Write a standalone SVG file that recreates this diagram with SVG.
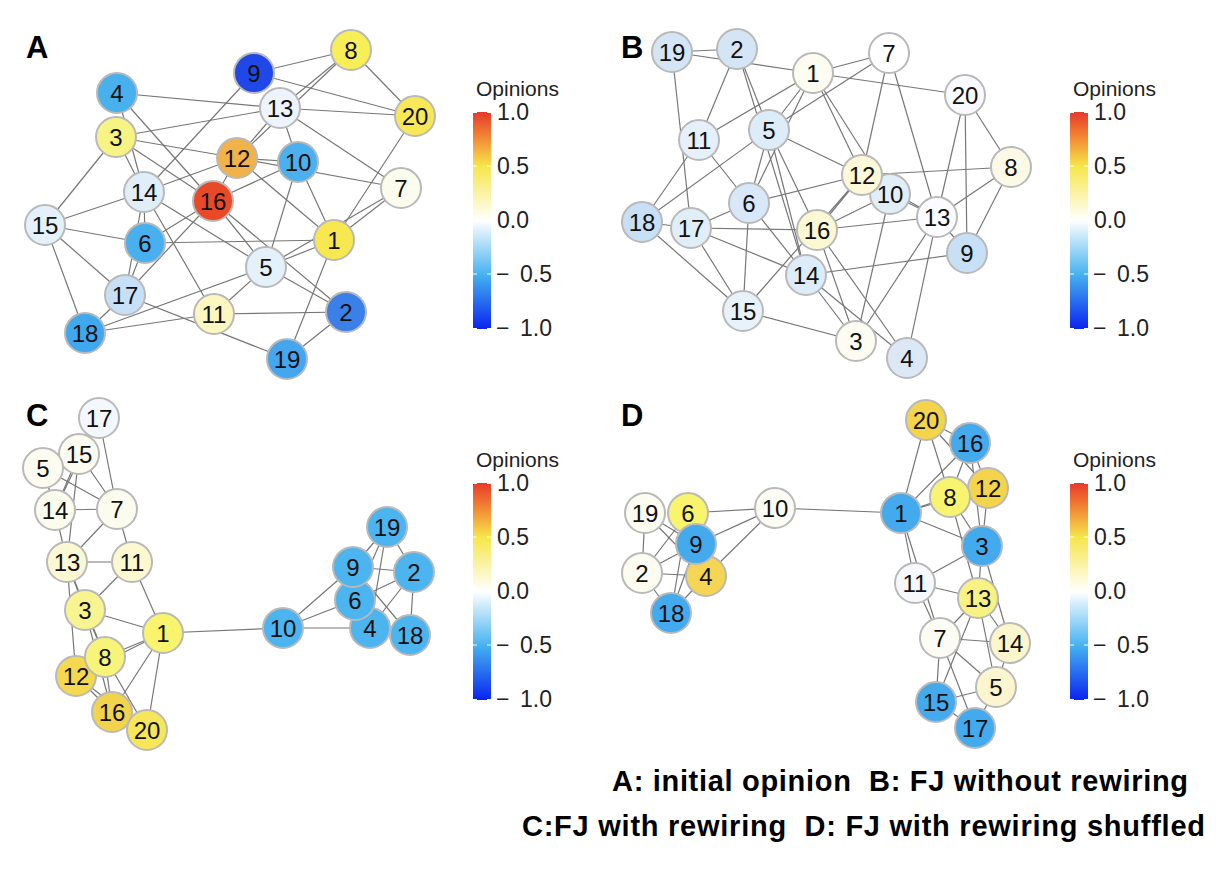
<svg xmlns="http://www.w3.org/2000/svg" width="1222" height="876" viewBox="0 0 1222 876">
<defs>
<linearGradient id="cb" x1="0" y1="0" x2="0" y2="1">
<stop offset="0" stop-color="#e8392a"/>
<stop offset="0.12" stop-color="#f28a34"/>
<stop offset="0.25" stop-color="#f6e64a"/>
<stop offset="0.5" stop-color="#ffffff"/>
<stop offset="0.75" stop-color="#45b2f0"/>
<stop offset="1" stop-color="#0a24f0"/>
</linearGradient>
<g id="colorbar">
<text class="ot" x="3" y="-16">Opinions</text>
<rect x="0" y="0" width="18" height="217" fill="url(#cb)"/>
<path class="tk" d="M0 0.5h4M14 0.5h4M0 54h4M14 54h4M0 108h4M14 108h4M0 162h4M14 162h4M0 216.5h4M14 216.5h4"/>
<text class="ct" x="24" y="8">1.0</text>
<text class="ct" x="24" y="62">0.5</text>
<text class="ct" x="24" y="116">0.0</text>
<text class="ct" x="23" y="170">−<tspan x="47">0.5</tspan></text>
<text class="ct" x="23" y="224">−<tspan x="47">1.0</tspan></text>
</g>
</defs>
<style>
.e line{stroke:#777;stroke-width:1.2}
.n circle{stroke:#b9b9b9;stroke-width:2}
.n text{font-family:"Liberation Sans",Arial,sans-serif;font-size:24px;text-anchor:middle;fill:#111}
.ot{font-family:"Liberation Sans",Arial,sans-serif;font-size:21px;fill:#222}
.ct{font-family:"Liberation Sans",Arial,sans-serif;font-size:23px;fill:#222}
.tk{stroke:#fff;stroke-width:1;fill:none}
.pl{font-family:"Liberation Sans",Arial,sans-serif;font-size:31px;font-weight:bold;fill:#000}
.cap{font-family:"Liberation Sans",Arial,sans-serif;font-size:29px;font-weight:bold;fill:#000}
</style>
<rect width="1222" height="876" fill="#fff"/>

<text class="pl" x="26" y="58">A</text>
<text class="pl" x="621" y="58">B</text>
<text class="pl" x="26" y="426">C</text>
<text class="pl" x="621" y="426">D</text>

<use href="#colorbar" x="473" y="112"/>
<use href="#colorbar" x="1070" y="112"/>
<use href="#colorbar" x="473" y="483"/>
<use href="#colorbar" x="1070" y="483"/>

<!-- Panel A connectors -->
<g id="A-edges" class="e">
<line x1="117" y1="93" x2="280" y2="108"/>
<line x1="117" y1="93" x2="213" y2="201"/>
<line x1="117" y1="93" x2="144" y2="192"/>
<line x1="116" y1="137" x2="144" y2="192"/>
<line x1="116" y1="137" x2="280" y2="108"/>
<line x1="116" y1="137" x2="237" y2="158"/>
<line x1="116" y1="137" x2="213" y2="201"/>
<line x1="116" y1="137" x2="45" y2="225"/>
<line x1="254" y1="73" x2="144" y2="192"/>
<line x1="144" y1="192" x2="237" y2="158"/>
<line x1="144" y1="192" x2="45" y2="225"/>
<line x1="144" y1="192" x2="266" y2="267"/>
<line x1="237" y1="158" x2="213" y2="201"/>
<line x1="213" y1="201" x2="298" y2="162"/>
<line x1="254" y1="73" x2="351" y2="50"/>
<line x1="254" y1="73" x2="415" y2="116"/>
<line x1="237" y1="158" x2="280" y2="108"/>
<line x1="237" y1="158" x2="351" y2="50"/>
<line x1="280" y1="108" x2="351" y2="50"/>
<line x1="280" y1="108" x2="415" y2="116"/>
<line x1="280" y1="108" x2="401" y2="188"/>
<line x1="280" y1="108" x2="298" y2="162"/>
<line x1="351" y1="50" x2="415" y2="116"/>
<line x1="415" y1="116" x2="334" y2="240"/>
<line x1="237" y1="158" x2="298" y2="162"/>
<line x1="237" y1="158" x2="401" y2="188"/>
<line x1="237" y1="158" x2="334" y2="240"/>
<line x1="298" y1="162" x2="266" y2="267"/>
<line x1="298" y1="162" x2="334" y2="240"/>
<line x1="401" y1="188" x2="334" y2="240"/>
<line x1="401" y1="188" x2="266" y2="267"/>
<line x1="334" y1="240" x2="266" y2="267"/>
<line x1="213" y1="201" x2="266" y2="267"/>
<line x1="145" y1="243" x2="334" y2="240"/>
<line x1="213" y1="201" x2="346" y2="312"/>
<line x1="266" y1="267" x2="346" y2="312"/>
<line x1="266" y1="267" x2="214" y2="314"/>
<line x1="85" y1="333" x2="266" y2="267"/>
<line x1="214" y1="314" x2="346" y2="312"/>
<line x1="346" y1="312" x2="287" y2="359"/>
<line x1="334" y1="240" x2="287" y2="359"/>
<line x1="45" y1="225" x2="145" y2="243"/>
<line x1="45" y1="225" x2="125" y2="295"/>
<line x1="45" y1="225" x2="85" y2="333"/>
<line x1="144" y1="192" x2="145" y2="243"/>
<line x1="145" y1="243" x2="125" y2="295"/>
<line x1="144" y1="192" x2="125" y2="295"/>
<line x1="144" y1="192" x2="214" y2="314"/>
<line x1="145" y1="243" x2="213" y2="201"/>
<line x1="125" y1="295" x2="213" y2="201"/>
<line x1="125" y1="295" x2="85" y2="333"/>
<line x1="125" y1="295" x2="287" y2="359"/>
<line x1="85" y1="333" x2="214" y2="314"/>
</g>

<!-- Panel A nodes -->
<g id="A-n1" class="n"><circle cx="334" cy="240" r="20" fill="#f8e850"/><text x="334" y="249">1</text></g>
<g id="A-n2" class="n"><circle cx="346" cy="312" r="20" fill="#3a80e8"/><text x="346" y="321">2</text></g>
<g id="A-n3" class="n"><circle cx="116" cy="137" r="20" fill="#f8f484"/><text x="116" y="146">3</text></g>
<g id="A-n4" class="n"><circle cx="117" cy="93" r="20" fill="#49b0ee"/><text x="117" y="102">4</text></g>
<g id="A-n5" class="n"><circle cx="266" cy="267" r="20" fill="#e4f0fa"/><text x="266" y="276">5</text></g>
<g id="A-n6" class="n"><circle cx="145" cy="243" r="20" fill="#48b0ee"/><text x="145" y="252">6</text></g>
<g id="A-n7" class="n"><circle cx="401" cy="188" r="20" fill="#fcfcee"/><text x="401" y="197">7</text></g>
<g id="A-n8" class="n"><circle cx="351" cy="50" r="20" fill="#f8ee58"/><text x="351" y="59">8</text></g>
<g id="A-n9" class="n"><circle cx="254" cy="73" r="20" fill="#2048e8"/><text x="254" y="82">9</text></g>
<g id="A-n10" class="n"><circle cx="298" cy="162" r="20" fill="#4cb0ee"/><text x="298" y="171">10</text></g>
<g id="A-n11" class="n"><circle cx="214" cy="314" r="20" fill="#fcf6c0"/><text x="214" y="323">11</text></g>
<g id="A-n12" class="n"><circle cx="237" cy="158" r="20" fill="#f2b24a"/><text x="237" y="167">12</text></g>
<g id="A-n13" class="n"><circle cx="280" cy="108" r="20" fill="#eef4fc"/><text x="280" y="117">13</text></g>
<g id="A-n14" class="n"><circle cx="144" cy="192" r="20" fill="#e0eefa"/><text x="144" y="201">14</text></g>
<g id="A-n15" class="n"><circle cx="45" cy="225" r="20" fill="#e4f0fa"/><text x="45" y="234">15</text></g>
<g id="A-n16" class="n"><circle cx="213" cy="201" r="20" fill="#e84a28"/><text x="213" y="210">16</text></g>
<g id="A-n17" class="n"><circle cx="125" cy="295" r="20" fill="#c8e0f6"/><text x="125" y="304">17</text></g>
<g id="A-n18" class="n"><circle cx="85" cy="333" r="20" fill="#40a8ee"/><text x="85" y="342">18</text></g>
<g id="A-n19" class="n"><circle cx="287" cy="359" r="20" fill="#44a6ee"/><text x="287" y="368">19</text></g>
<g id="A-n20" class="n"><circle cx="415" cy="116" r="20" fill="#f8e858"/><text x="415" y="125">20</text></g>

<!-- Panel B connectors -->
<g id="B-edges" class="e">
<line x1="672" y1="52" x2="737" y2="49"/>
<line x1="672" y1="52" x2="813" y2="73"/>
<line x1="672" y1="52" x2="691" y2="228"/>
<line x1="737" y1="49" x2="699" y2="140"/>
<line x1="737" y1="49" x2="769" y2="130"/>
<line x1="737" y1="49" x2="806" y2="275"/>
<line x1="813" y1="73" x2="699" y2="140"/>
<line x1="813" y1="73" x2="769" y2="130"/>
<line x1="813" y1="73" x2="749" y2="203"/>
<line x1="813" y1="73" x2="889" y2="53"/>
<line x1="813" y1="73" x2="965" y2="95"/>
<line x1="813" y1="73" x2="862" y2="175"/>
<line x1="813" y1="73" x2="890" y2="194"/>
<line x1="889" y1="53" x2="769" y2="130"/>
<line x1="889" y1="53" x2="862" y2="175"/>
<line x1="889" y1="53" x2="937" y2="217"/>
<line x1="965" y1="95" x2="937" y2="217"/>
<line x1="965" y1="95" x2="967" y2="253"/>
<line x1="965" y1="95" x2="1011" y2="167"/>
<line x1="769" y1="130" x2="862" y2="175"/>
<line x1="769" y1="130" x2="806" y2="275"/>
<line x1="769" y1="130" x2="817" y2="230"/>
<line x1="769" y1="130" x2="642" y2="222"/>
<line x1="769" y1="130" x2="749" y2="203"/>
<line x1="699" y1="140" x2="642" y2="222"/>
<line x1="699" y1="140" x2="749" y2="203"/>
<line x1="749" y1="203" x2="862" y2="175"/>
<line x1="749" y1="203" x2="691" y2="228"/>
<line x1="749" y1="203" x2="743" y2="311"/>
<line x1="749" y1="203" x2="806" y2="275"/>
<line x1="691" y1="228" x2="817" y2="230"/>
<line x1="691" y1="228" x2="806" y2="275"/>
<line x1="691" y1="228" x2="743" y2="311"/>
<line x1="642" y1="222" x2="691" y2="228"/>
<line x1="642" y1="222" x2="743" y2="311"/>
<line x1="743" y1="311" x2="862" y2="175"/>
<line x1="817" y1="230" x2="862" y2="175"/>
<line x1="817" y1="230" x2="890" y2="194"/>
<line x1="817" y1="230" x2="937" y2="217"/>
<line x1="817" y1="230" x2="856" y2="341"/>
<line x1="817" y1="230" x2="907" y2="358"/>
<line x1="806" y1="275" x2="967" y2="253"/>
<line x1="806" y1="275" x2="856" y2="341"/>
<line x1="806" y1="275" x2="907" y2="358"/>
<line x1="890" y1="194" x2="856" y2="341"/>
<line x1="890" y1="194" x2="937" y2="217"/>
<line x1="862" y1="175" x2="937" y2="217"/>
<line x1="937" y1="217" x2="856" y2="341"/>
<line x1="937" y1="217" x2="907" y2="358"/>
<line x1="937" y1="217" x2="967" y2="253"/>
<line x1="937" y1="217" x2="1011" y2="167"/>
<line x1="1011" y1="167" x2="967" y2="253"/>
<line x1="862" y1="175" x2="1011" y2="167"/>
<line x1="743" y1="311" x2="856" y2="341"/>
</g>

<!-- Panel B nodes -->
<g id="B-n1" class="n"><circle cx="813" cy="73" r="20" fill="#fcfcf0"/><text x="813" y="82">1</text></g>
<g id="B-n2" class="n"><circle cx="737" cy="49" r="20" fill="#d4e6f6"/><text x="737" y="58">2</text></g>
<g id="B-n3" class="n"><circle cx="856" cy="341" r="20" fill="#fcfcf2"/><text x="856" y="350">3</text></g>
<g id="B-n4" class="n"><circle cx="907" cy="358" r="20" fill="#dce8f6"/><text x="907" y="367">4</text></g>
<g id="B-n5" class="n"><circle cx="769" cy="130" r="20" fill="#dcecf8"/><text x="769" y="139">5</text></g>
<g id="B-n6" class="n"><circle cx="749" cy="203" r="20" fill="#d8e8f8"/><text x="749" y="212">6</text></g>
<g id="B-n7" class="n"><circle cx="889" cy="53" r="20" fill="#ffffff"/><text x="889" y="62">7</text></g>
<g id="B-n8" class="n"><circle cx="1011" cy="167" r="20" fill="#fcfae6"/><text x="1011" y="176">8</text></g>
<g id="B-n9" class="n"><circle cx="967" cy="253" r="20" fill="#c8e0f6"/><text x="967" y="262">9</text></g>
<g id="B-n10" class="n"><circle cx="890" cy="194" r="20" fill="#e0eef8"/><text x="890" y="203">10</text></g>
<g id="B-n11" class="n"><circle cx="699" cy="140" r="20" fill="#e6f0fa"/><text x="699" y="149">11</text></g>
<g id="B-n12" class="n"><circle cx="862" cy="175" r="20" fill="#fcf8d8"/><text x="862" y="184">12</text></g>
<g id="B-n13" class="n"><circle cx="937" cy="217" r="20" fill="#fcfcff"/><text x="937" y="226">13</text></g>
<g id="B-n14" class="n"><circle cx="806" cy="275" r="20" fill="#dcecf8"/><text x="806" y="284">14</text></g>
<g id="B-n15" class="n"><circle cx="743" cy="311" r="20" fill="#e8f2fa"/><text x="743" y="320">15</text></g>
<g id="B-n16" class="n"><circle cx="817" cy="230" r="20" fill="#fcf8d4"/><text x="817" y="239">16</text></g>
<g id="B-n17" class="n"><circle cx="691" cy="228" r="20" fill="#e0eef8"/><text x="691" y="237">17</text></g>
<g id="B-n18" class="n"><circle cx="642" cy="222" r="20" fill="#c8e0f6"/><text x="642" y="231">18</text></g>
<g id="B-n19" class="n"><circle cx="672" cy="52" r="20" fill="#d4e6f6"/><text x="672" y="61">19</text></g>
<g id="B-n20" class="n"><circle cx="965" cy="95" r="20" fill="#f8fafe"/><text x="965" y="104">20</text></g>

<!-- Panel C connectors -->
<g id="C-edges" class="e">
<line x1="99" y1="418" x2="117" y2="509"/>
<line x1="99" y1="418" x2="79" y2="454"/>
<line x1="99" y1="418" x2="55" y2="510"/>
<line x1="79" y1="454" x2="117" y2="509"/>
<line x1="79" y1="454" x2="55" y2="510"/>
<line x1="79" y1="454" x2="67" y2="562"/>
<line x1="43" y1="468" x2="117" y2="509"/>
<line x1="43" y1="468" x2="55" y2="510"/>
<line x1="43" y1="468" x2="79" y2="454"/>
<line x1="55" y1="510" x2="117" y2="509"/>
<line x1="55" y1="510" x2="67" y2="562"/>
<line x1="117" y1="509" x2="67" y2="562"/>
<line x1="117" y1="509" x2="132" y2="562"/>
<line x1="67" y1="562" x2="132" y2="562"/>
<line x1="67" y1="562" x2="85" y2="610"/>
<line x1="67" y1="562" x2="105" y2="657"/>
<line x1="67" y1="562" x2="76" y2="676"/>
<line x1="132" y1="562" x2="85" y2="610"/>
<line x1="132" y1="562" x2="163" y2="633"/>
<line x1="85" y1="610" x2="163" y2="633"/>
<line x1="85" y1="610" x2="105" y2="657"/>
<line x1="163" y1="633" x2="105" y2="657"/>
<line x1="163" y1="633" x2="76" y2="676"/>
<line x1="163" y1="633" x2="112" y2="712"/>
<line x1="163" y1="633" x2="147" y2="730"/>
<line x1="163" y1="633" x2="283" y2="628"/>
<line x1="76" y1="676" x2="112" y2="712"/>
<line x1="76" y1="676" x2="147" y2="730"/>
<line x1="105" y1="657" x2="112" y2="712"/>
<line x1="85" y1="610" x2="112" y2="712"/>
<line x1="105" y1="657" x2="147" y2="730"/>
<line x1="283" y1="628" x2="353" y2="567"/>
<line x1="283" y1="628" x2="355" y2="600"/>
<line x1="283" y1="628" x2="370" y2="628"/>
<line x1="387" y1="527" x2="353" y2="567"/>
<line x1="387" y1="527" x2="355" y2="600"/>
<line x1="387" y1="527" x2="370" y2="628"/>
<line x1="387" y1="527" x2="414" y2="572"/>
<line x1="353" y1="567" x2="414" y2="572"/>
<line x1="353" y1="567" x2="410" y2="635"/>
<line x1="355" y1="600" x2="414" y2="572"/>
<line x1="370" y1="628" x2="414" y2="572"/>
<line x1="414" y1="572" x2="410" y2="635"/>
</g>

<!-- Panel C nodes -->
<g id="C-n17" class="n"><circle cx="99" cy="418" r="20" fill="#f4f8fe"/><text x="99" y="427">17</text></g>
<g id="C-n15" class="n"><circle cx="79" cy="454" r="20" fill="#fcfcf0"/><text x="79" y="463">15</text></g>
<g id="C-n5" class="n"><circle cx="43" cy="468" r="20" fill="#fcfcf0"/><text x="43" y="477">5</text></g>
<g id="C-n14" class="n"><circle cx="55" cy="510" r="20" fill="#fcfcee"/><text x="55" y="519">14</text></g>
<g id="C-n7" class="n"><circle cx="117" cy="509" r="20" fill="#fcfcee"/><text x="117" y="518">7</text></g>
<g id="C-n13" class="n"><circle cx="67" cy="562" r="20" fill="#fcf8d4"/><text x="67" y="571">13</text></g>
<g id="C-n11" class="n"><circle cx="132" cy="562" r="20" fill="#fcf8d0"/><text x="132" y="571">11</text></g>
<g id="C-n3" class="n"><circle cx="85" cy="610" r="20" fill="#f8f490"/><text x="85" y="619">3</text></g>
<g id="C-n1" class="n"><circle cx="163" cy="633" r="20" fill="#f8f46e"/><text x="163" y="642">1</text></g>
<g id="C-n12" class="n"><circle cx="76" cy="676" r="20" fill="#f4d850"/><text x="76" y="685">12</text></g>
<g id="C-n8" class="n"><circle cx="105" cy="657" r="20" fill="#f8f47a"/><text x="105" y="666">8</text></g>
<g id="C-n16" class="n"><circle cx="112" cy="712" r="20" fill="#f2d44c"/><text x="112" y="721">16</text></g>
<g id="C-n20" class="n"><circle cx="147" cy="730" r="20" fill="#f8e65a"/><text x="147" y="739">20</text></g>
<g id="C-n10" class="n"><circle cx="283" cy="628" r="20" fill="#4cb4ee"/><text x="283" y="637">10</text></g>
<g id="C-n19" class="n"><circle cx="387" cy="527" r="20" fill="#4cb4ee"/><text x="387" y="536">19</text></g>
<g id="C-n2" class="n"><circle cx="414" cy="572" r="20" fill="#4cb4ee"/><text x="414" y="581">2</text></g>
<g id="C-n18" class="n"><circle cx="410" cy="635" r="20" fill="#4cb4ee"/><text x="410" y="644">18</text></g>
<g id="C-n4" class="n"><circle cx="370" cy="628" r="20" fill="#4cb4ee"/><text x="370" y="637">4</text></g>
<g id="C-n6" class="n"><circle cx="355" cy="600" r="20" fill="#4cb4ee"/><text x="355" y="609">6</text></g>
<g id="C-n9" class="n"><circle cx="353" cy="567" r="20" fill="#4cb4ee"/><text x="353" y="576">9</text></g>

<!-- Panel D connectors -->
<g id="D-edges" class="e">
<line x1="688" y1="513" x2="775" y2="508"/>
<line x1="696" y1="544" x2="775" y2="508"/>
<line x1="706" y1="576" x2="775" y2="508"/>
<line x1="775" y1="508" x2="901" y2="513"/>
<line x1="645" y1="513" x2="696" y2="544"/>
<line x1="645" y1="513" x2="706" y2="576"/>
<line x1="645" y1="513" x2="642" y2="573"/>
<line x1="642" y1="573" x2="688" y2="513"/>
<line x1="642" y1="573" x2="696" y2="544"/>
<line x1="642" y1="573" x2="706" y2="576"/>
<line x1="642" y1="573" x2="671" y2="613"/>
<line x1="671" y1="613" x2="696" y2="544"/>
<line x1="671" y1="613" x2="688" y2="513"/>
<line x1="671" y1="613" x2="706" y2="576"/>
<line x1="926" y1="420" x2="901" y2="513"/>
<line x1="926" y1="420" x2="950" y2="497"/>
<line x1="926" y1="420" x2="970" y2="443"/>
<line x1="926" y1="420" x2="988" y2="488"/>
<line x1="970" y1="443" x2="901" y2="513"/>
<line x1="970" y1="443" x2="950" y2="497"/>
<line x1="970" y1="443" x2="988" y2="488"/>
<line x1="970" y1="443" x2="982" y2="546"/>
<line x1="901" y1="513" x2="950" y2="497"/>
<line x1="901" y1="513" x2="988" y2="488"/>
<line x1="901" y1="513" x2="982" y2="546"/>
<line x1="901" y1="513" x2="915" y2="583"/>
<line x1="901" y1="513" x2="940" y2="638"/>
<line x1="950" y1="497" x2="982" y2="546"/>
<line x1="950" y1="497" x2="978" y2="598"/>
<line x1="988" y1="488" x2="982" y2="546"/>
<line x1="982" y1="546" x2="915" y2="583"/>
<line x1="982" y1="546" x2="978" y2="598"/>
<line x1="982" y1="546" x2="1010" y2="643"/>
<line x1="915" y1="583" x2="978" y2="598"/>
<line x1="915" y1="583" x2="940" y2="638"/>
<line x1="978" y1="598" x2="940" y2="638"/>
<line x1="978" y1="598" x2="1010" y2="643"/>
<line x1="978" y1="598" x2="936" y2="702"/>
<line x1="978" y1="598" x2="996" y2="687"/>
<line x1="940" y1="638" x2="1010" y2="643"/>
<line x1="940" y1="638" x2="996" y2="687"/>
<line x1="940" y1="638" x2="936" y2="702"/>
<line x1="940" y1="638" x2="975" y2="728"/>
<line x1="1010" y1="643" x2="996" y2="687"/>
<line x1="996" y1="687" x2="936" y2="702"/>
<line x1="996" y1="687" x2="975" y2="728"/>
<line x1="936" y1="702" x2="975" y2="728"/>
</g>

<!-- Panel D nodes -->
<g id="D-n19" class="n"><circle cx="645" cy="513" r="20" fill="#fcfcf0"/><text x="645" y="522">19</text></g>
<g id="D-n6" class="n"><circle cx="688" cy="513" r="20" fill="#f8f46e"/><text x="688" y="522">6</text></g>
<g id="D-n10" class="n"><circle cx="775" cy="508" r="20" fill="#fcfcf4"/><text x="775" y="517">10</text></g>
<g id="D-n2" class="n"><circle cx="642" cy="573" r="20" fill="#fcfcf0"/><text x="642" y="582">2</text></g>
<g id="D-n4" class="n"><circle cx="706" cy="576" r="20" fill="#f4d654"/><text x="706" y="585">4</text></g>
<g id="D-n9" class="n"><circle cx="696" cy="544" r="20" fill="#44aaee"/><text x="696" y="553">9</text></g>
<g id="D-n18" class="n"><circle cx="671" cy="613" r="20" fill="#44aaee"/><text x="671" y="622">18</text></g>
<g id="D-n20" class="n"><circle cx="926" cy="420" r="20" fill="#f4d44a"/><text x="926" y="429">20</text></g>
<g id="D-n16" class="n"><circle cx="970" cy="443" r="20" fill="#44aaee"/><text x="970" y="452">16</text></g>
<g id="D-n12" class="n"><circle cx="988" cy="488" r="20" fill="#f4d44a"/><text x="988" y="497">12</text></g>
<g id="D-n8" class="n"><circle cx="950" cy="497" r="20" fill="#f8f470"/><text x="950" y="506">8</text></g>
<g id="D-n1" class="n"><circle cx="901" cy="513" r="20" fill="#44aaee"/><text x="901" y="522">1</text></g>
<g id="D-n3" class="n"><circle cx="982" cy="546" r="20" fill="#44aaee"/><text x="982" y="555">3</text></g>
<g id="D-n11" class="n"><circle cx="915" cy="583" r="20" fill="#f6f8fe"/><text x="915" y="592">11</text></g>
<g id="D-n13" class="n"><circle cx="978" cy="598" r="20" fill="#f8f284"/><text x="978" y="607">13</text></g>
<g id="D-n7" class="n"><circle cx="940" cy="638" r="20" fill="#fcfcf4"/><text x="940" y="647">7</text></g>
<g id="D-n14" class="n"><circle cx="1010" cy="643" r="20" fill="#fcf6cc"/><text x="1010" y="652">14</text></g>
<g id="D-n5" class="n"><circle cx="996" cy="687" r="20" fill="#fcf6d0"/><text x="996" y="696">5</text></g>
<g id="D-n15" class="n"><circle cx="936" cy="702" r="20" fill="#44aaee"/><text x="936" y="711">15</text></g>
<g id="D-n17" class="n"><circle cx="975" cy="728" r="20" fill="#44aaee"/><text x="975" y="737">17</text></g>

<text class="cap" x="612" y="791" textLength="576" lengthAdjust="spacing" xml:space="preserve">A: initial opinion  B: FJ without rewiring</text>
<text class="cap" x="522" y="836" textLength="683" lengthAdjust="spacing" xml:space="preserve">C:FJ with rewiring  D: FJ with rewiring shuffled</text>
</svg>
